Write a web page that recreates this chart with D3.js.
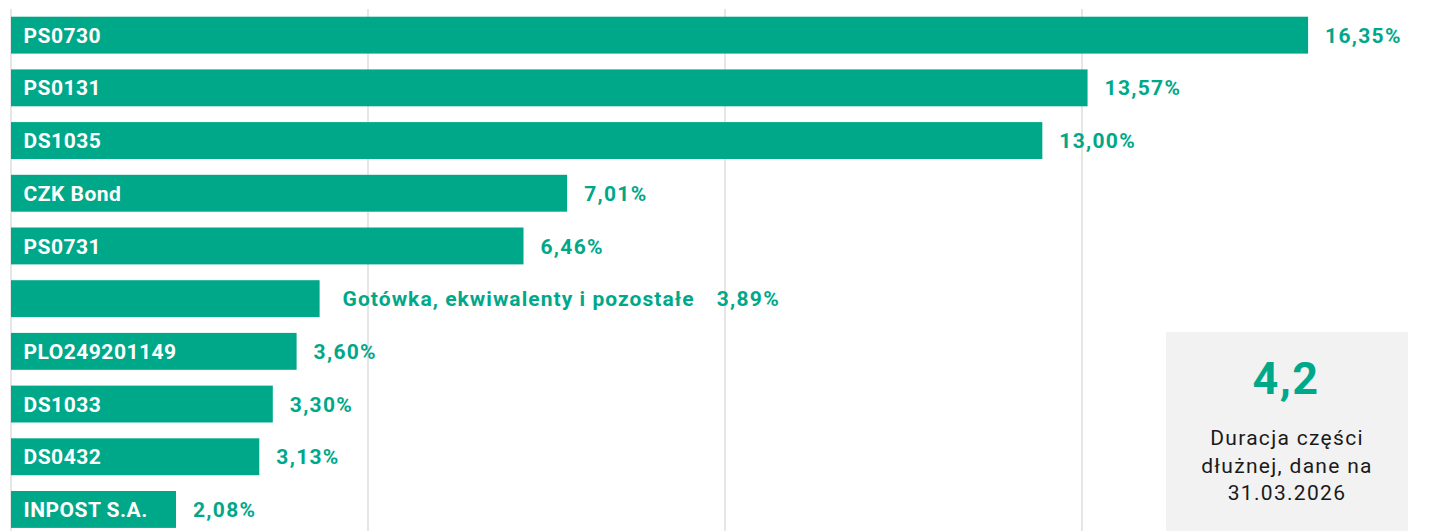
<!DOCTYPE html>
<html>
<head>
<meta charset="utf-8">
<script src="https://cdn.jsdelivr.net/npm/d3@7"></script>
<style>
  body { margin: 0; background: #fff; }
  text { font-family: Roboto, "Noto Sans", sans-serif; }
</style>
</head>
<body>
<div id="chart"></div>
<script>
// dane z wykresu
const names = ["PS0730", "PS0131", "DS1035", "CZK Bond", "PS0731",
    "Gotówka, ekwiwalenty i pozostałe", "PLO249201149", "DS1033", "DS0432", "INPOST S.A."];
const values = [16.35, 13.57, 13.00, 7.01, 6.46, 3.89, 3.60, 3.30, 3.13, 2.08];
const outsideName = [false, false, false, false, false, true, false, false, false, false];
const gridTicks = [0, 4.5, 9, 13.5];
const durationValue = "4,2";
const durationLines = ["Duracja części", "dłużnej, dane na", "31.03.2026"];

const width = 1434, height = 531;
const green = "#00a88a";

const svg = d3.select("#chart")
    .append("svg")
    .attr("width", width)
    .attr("height", height);

const x = d3.scaleLinear()
    .domain([0, 18])
    .range([11, 11 + 1428]);

const y = d3.scaleBand()
    .domain(names)
    .range([8.8, 8.8 + 52.7 * names.length])
    .paddingInner(0.3)
    .paddingOuter(0.15);

// linie siatki
svg.append("g")
    .selectAll("line")
    .data(gridTicks)
    .enter()
    .append("line")
    .attr("x1", d => x(d))
    .attr("x2", d => x(d))
    .attr("y1", 9)
    .attr("y2", height)
    .attr("stroke", "#dedede")
    .attr("stroke-width", 1.5);

const fmt = v => v.toFixed(2).replace(".", ",") + "%";

const rows = svg.append("g")
    .selectAll("g")
    .data(names.map((n, i) => ({ name: n, value: values[i], outside: outsideName[i] })))
    .enter()
    .append("g");

rows.append("rect")
    .attr("x", x(0))
    .attr("y", d => y(d.name))
    .attr("width", d => x(d.value) - x(0))
    .attr("height", y.bandwidth())
    .attr("fill", green);

rows.filter(d => !d.outside)
    .append("text")
    .attr("x", x(0) + 12.5)
    .attr("y", d => y(d.name) + y.bandwidth() / 2)
    .attr("dy", "0.36em")
    .attr("fill", "#fff")
    .style("font-size", "21px")
    .style("font-weight", "bold")
    .style("letter-spacing", "0.5px")
    .text(d => d.name);

// etykieta poza słupkiem (gotówka)
rows.filter(d => d.outside)
    .append("text")
    .attr("class", "outname")
    .attr("x", d => x(d.value) + 23)
    .attr("y", d => y(d.name) + y.bandwidth() / 2)
    .attr("dy", "0.36em")
    .attr("fill", green)
    .style("font-size", "21px")
    .style("font-weight", "bold")
    .style("letter-spacing", "1.05px")
    .text(d => d.name);

rows.append("text")
    .attr("x", function (d) {
        if (d.outside) {
            const n = d3.select(this.parentNode).select(".outname").node();
            return x(d.value) + 23 + n.getComputedTextLength() + 22;
        }
        return x(d.value) + 17;
    })
    .attr("y", d => y(d.name) + y.bandwidth() / 2)
    .attr("dy", "0.36em")
    .attr("fill", green)
    .style("font-size", "21px")
    .style("font-weight", "bold")
    .style("letter-spacing", "1.3px")
    .text(d => fmt(d.value));

// ramka z duracją
const box = svg.append("g");
box.append("rect")
    .attr("x", 1166)
    .attr("y", 332)
    .attr("width", 242)
    .attr("height", height - 332)
    .attr("fill", "#f2f2f2");

box.append("text")
    .attr("x", 1286)
    .attr("y", 394)
    .attr("text-anchor", "middle")
    .attr("fill", green)
    .style("font-size", "45px")
    .style("font-weight", "bold")
    .style("letter-spacing", "1.5px")
    .text(durationValue);

box.selectAll(".dl")
    .data(durationLines)
    .enter()
    .append("text")
    .attr("class", "dl")
    .attr("x", 1287)
    .attr("y", (d, i) => 445 + i * 27.5)
    .attr("text-anchor", "middle")
    .attr("fill", "#1a1a1a")
    .style("font-size", "21px")
    .style("letter-spacing", "1.3px")
    .text(d => d);
</script>
</body>
</html>
